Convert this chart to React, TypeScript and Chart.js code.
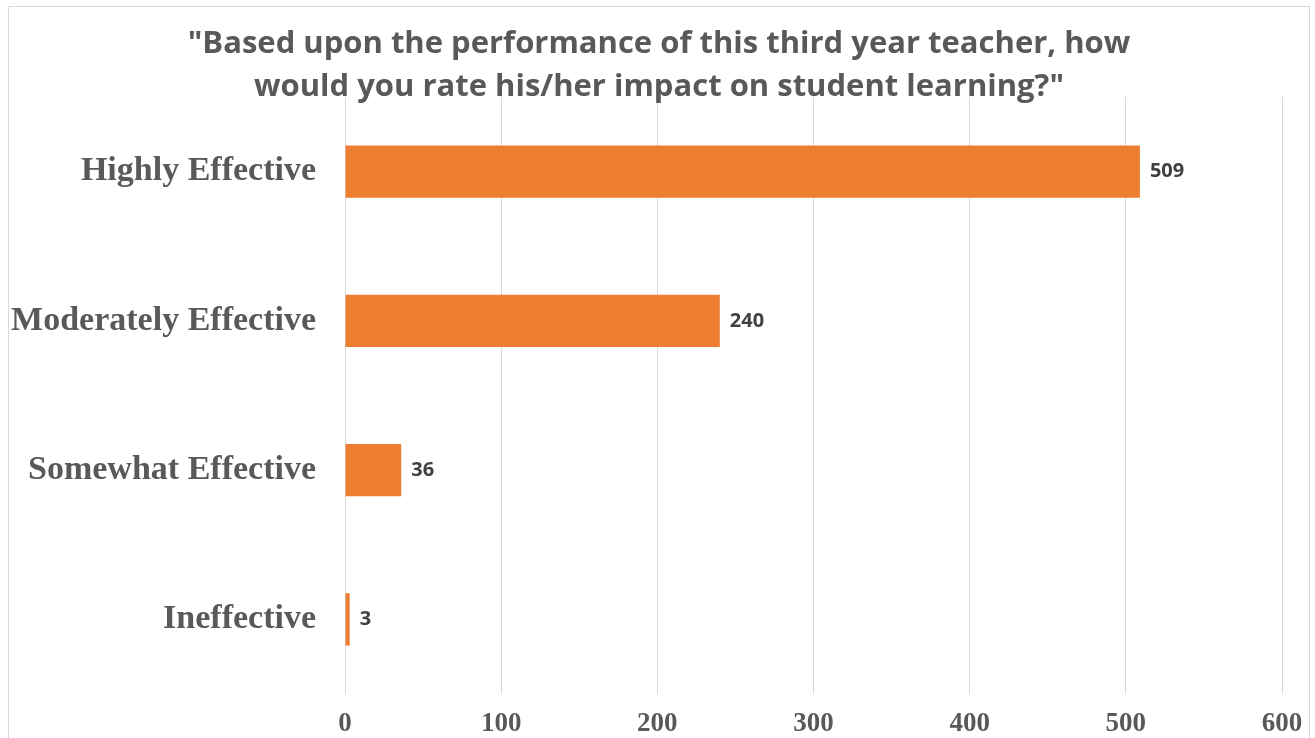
import React, { useEffect, useRef } from "react";
import { Chart, registerables } from "chart.js";

Chart.register(...registerables);

const categories = ["Highly Effective", "Moderately Effective", "Somewhat Effective", "Ineffective"];
const values = [509, 240, 36, 3];
const titleLines = [
  '"Based upon the performance of this third year teacher, how',
  'would you rate his/her impact on student learning?"',
];
const xMin = 0;
const xMax = 600;
const xStep = 100;

const W = 1315;
const H = 738;

export default function App() {
  const ref = useRef<HTMLCanvasElement | null>(null);

  useEffect(() => {
    if (!ref.current) return;

    const framePlugin = {
      id: "frame",
      beforeDraw(chart: any) {
        const ctx = chart.ctx;
        ctx.save();
        ctx.fillStyle = "#ffffff";
        ctx.fillRect(0, 0, chart.width, chart.height);
        ctx.strokeStyle = "#d9d9d9";
        ctx.lineWidth = 1;
        ctx.strokeRect(8.5, 6.5, 1301, 760);
        ctx.restore();
      },
      afterDraw(chart: any) {
        const ctx = chart.ctx;
        ctx.save();
        ctx.fillStyle = "#595959";
        ctx.font = "bold 31px 'Open Sans'";
        ctx.textAlign = "center";
        ctx.textBaseline = "middle";
        ctx.fillText(titleLines[0], 659, 44);
        ctx.fillText(titleLines[1], 659, 87);
        ctx.restore();
      },
    };

    const labelPlugin = {
      id: "barLabels",
      afterDatasetsDraw(chart: any) {
        const ctx = chart.ctx;
        const meta = chart.getDatasetMeta(0);
        ctx.save();
        ctx.fillStyle = "#404040";
        ctx.font = "bold 20px 'Open Sans'";
        ctx.textAlign = "left";
        ctx.textBaseline = "middle";
        meta.data.forEach((bar: any, i: number) => {
          ctx.fillText(String(values[i]), bar.x + 10, bar.y);
        });
        ctx.restore();
      },
    };

    const chart = new Chart(ref.current, {
      type: "bar",
      data: {
        labels: categories,
        datasets: [
          {
            data: values,
            backgroundColor: "#ED7D31",
            borderWidth: 0,
            categoryPercentage: 1,
            barPercentage: 0.35,
          },
        ],
      },
      options: {
        indexAxis: "y",
        responsive: false,
        animation: false,
        layout: { padding: { top: 97, right: 33, left: 0, bottom: 0 } },
        plugins: {
          legend: { display: false },
          title: { display: false },
          tooltip: { enabled: false },
        },
        scales: {
          x: {
            min: xMin,
            max: xMax,
            ticks: {
              stepSize: xStep,
              color: "#595959",
              font: { family: "'Liberation Serif'", weight: "bold", size: 27 },
              padding: 0,
            },
            grid: {
              color: "#d9d9d9",
              drawTicks: true,
              tickLength: 14,
              tickColor: "rgba(0,0,0,0)",
              lineWidth: 1,
            },
            border: { display: false },
            afterFit(scale: any) {
              scale.height = 44;
            },
          },
          y: {
            ticks: {
              color: "#595959",
              font: { family: "'Liberation Serif'", weight: "bold", size: 34 },
              padding: 0,
            },
            grid: {
              display: true,
              color: "rgba(0,0,0,0)",
              drawTicks: true,
              tickLength: 29,
              tickColor: "rgba(0,0,0,0)",
            },
            border: { display: false },
            afterFit(scale: any) {
              scale.width = 345;
            },
          },
        },
      },
      plugins: [framePlugin, labelPlugin],
    } as any);

    return () => chart.destroy();
  }, []);

  return (
    <div style={{ position: "fixed", left: 0, top: 0, width: W, height: H, background: "#fff" }}>
      <canvas ref={ref} width={W} height={H} style={{ width: W, height: H, display: "block" }} />
    </div>
  );
}
